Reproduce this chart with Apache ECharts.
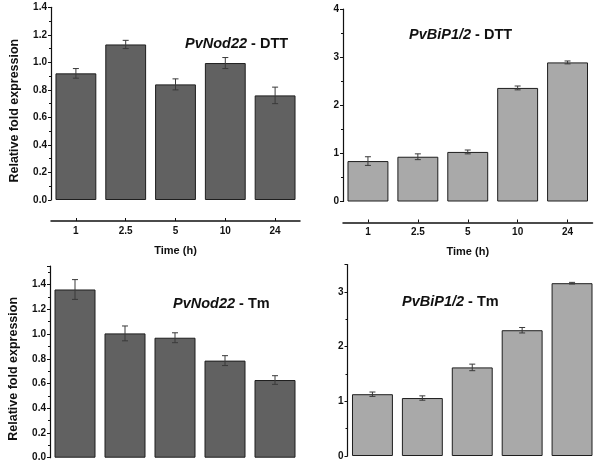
<!DOCTYPE html>
<html><head><meta charset="utf-8">
<script src="https://cdn.jsdelivr.net/npm/echarts@6/dist/echarts.min.js"></script>
<style>html,body{margin:0;padding:0;background:#fff}#c{width:601px;height:467px}</style>
</head><body><div id="c"></div>
<script>
const categories = ['1','2.5','5','10','24'];
const nodDTT = [0.92, 1.13, 0.84, 0.995, 0.76];
const nodDTTErr = [0.035, 0.03, 0.04, 0.04, 0.06];
const bipDTT = [0.84, 0.93, 1.03, 2.36, 2.89];
const bipDTTErr = [0.09, 0.06, 0.04, 0.04, 0.03];
const nodTm = [1.36, 1.005, 0.97, 0.785, 0.628];
const nodTmErr = [0.08, 0.06, 0.04, 0.04, 0.035];
const bipTm = [1.13, 1.06, 1.62, 2.30, 3.16];
const bipTmErr = [0.04, 0.04, 0.06, 0.05, 0.015];

const FONT = 'Liberation Sans, Arial, sans-serif';
const DARK = '#616161', LIGHT = '#a9a9a9';

const grids = [
  {left:51, top:7.3, width:249, height:192.7},
  {left:343, top:9, width:249.5, height:192.5},
  {left:50, top:266, width:250, height:191.7},
  {left:347.5, top:264.6, width:249.5, height:191.4}
];
const panels = [
  {vals:nodDTT, err:nodDTTErr, color:DARK, max:1.4, interval:0.2, split:2, dec:1, xshow:true, yname:'Relative fold expression', gene:'PvNod22', trt:' - DTT', tl:180, tt:31},
  {vals:bipDTT, err:bipDTTErr, color:LIGHT, max:4, interval:1, split:2, dec:0, xshow:true, yname:'', gene:'PvBiP1/2', trt:' - DTT', tl:404, tt:22},
  {vals:nodTm, err:nodTmErr, color:DARK, max:1.55, interval:0.2, split:2, dec:1, xshow:false, yname:'Relative fold expression', gene:'PvNod22', trt:' - Tm', tl:168, tt:291},
  {vals:bipTm, err:bipTmErr, color:LIGHT, max:3.5, interval:1, split:2, dec:0, xshow:false, yname:'', gene:'PvBiP1/2', trt:' - Tm', tl:397, tt:289}
];

const xAxis = [], yAxis = [], series = [], title = [];
panels.forEach((p, i) => {
  xAxis.push({
    type:'category', data:categories, gridIndex:i, offset:21,
    show:p.xshow,
    axisLine:{show:true, onZero:false, lineStyle:{color:'#111', width:1.5}},
    axisTick:{show:true, inside:true, alignWithLabel:true, length:3, lineStyle:{color:'#111'}},
    axisLabel:{color:'#111', fontFamily:FONT, fontWeight:'bold', fontSize:10, margin:5},
    name:'Time (h)', nameLocation:'middle', nameGap:24,
    nameTextStyle:{color:'#111', fontFamily:FONT, fontWeight:'bold', fontSize:11}
  });
  const whole = Math.abs(p.max/p.interval - Math.round(p.max/p.interval)) < 1e-9;
  yAxis.push({
    type:'value', gridIndex:i, min:0, max:p.max, interval:p.interval,
    splitLine:{show:false},
    axisLine:{show:true, lineStyle:{color:'#111', width:1.2}},
    axisTick:{show:true, length:3, lineStyle:{color:'#111'}},
    minorTick:{show:true, splitNumber:p.split, length:2, lineStyle:{color:'#111'}},
    axisLabel:{color:'#111', fontFamily:FONT, fontWeight:'bold', fontSize:10, margin:4, showMaxLabel:whole,
      formatter: v => Number(v).toFixed(p.dec)},
    name:p.yname, nameLocation:'middle', nameGap:30, nameRotate:90,
    nameTextStyle:{color:'#111', fontFamily:FONT, fontWeight:'bold', fontSize:12.5, padding:[0,0,0,-14]}
  });
  series.push({
    type:'bar', xAxisIndex:i, yAxisIndex:i, data:p.vals, barCategoryGap:'18%',
    itemStyle:{color:p.color, borderColor:'#1e1e1e', borderWidth:1}
  });
  const errData = p.vals.map((v, k) => [k, v - p.err[k], v + p.err[k]]);
  series.push({
    type:'custom', xAxisIndex:i, yAxisIndex:i, data:errData, z:10,
    renderItem:(params, api) => {
      const x = api.value(0);
      const lo = api.coord([x, api.value(1)]);
      const hi = api.coord([x, api.value(2)]);
      const w = 3;
      const st = {stroke:'#3a3a3a', lineWidth:1};
      return {type:'group', children:[
        {type:'line', shape:{x1:lo[0], y1:lo[1], x2:hi[0], y2:hi[1]}, style:st},
        {type:'line', shape:{x1:lo[0]-w, y1:lo[1], x2:lo[0]+w, y2:lo[1]}, style:st},
        {type:'line', shape:{x1:hi[0]-w, y1:hi[1], x2:hi[0]+w, y2:hi[1]}, style:st}
      ]};
    }
  });
  title.push({
    text:'{g|' + p.gene + '}{t|' + p.trt + '}', left:p.tl, top:p.tt,
    textStyle:{rich:{
      g:{fontFamily:FONT, fontWeight:'bold', fontStyle:'italic', fontSize:14.5, color:'#111'},
      t:{fontFamily:FONT, fontWeight:'bold', fontSize:14.5, color:'#111'}
    }}
  });
});

const chart = echarts.init(document.getElementById('c'), null, {renderer:'canvas'});
chart.setOption({animation:false, backgroundColor:'#fff', title, grid:grids, xAxis, yAxis, series});
</script></body></html>
